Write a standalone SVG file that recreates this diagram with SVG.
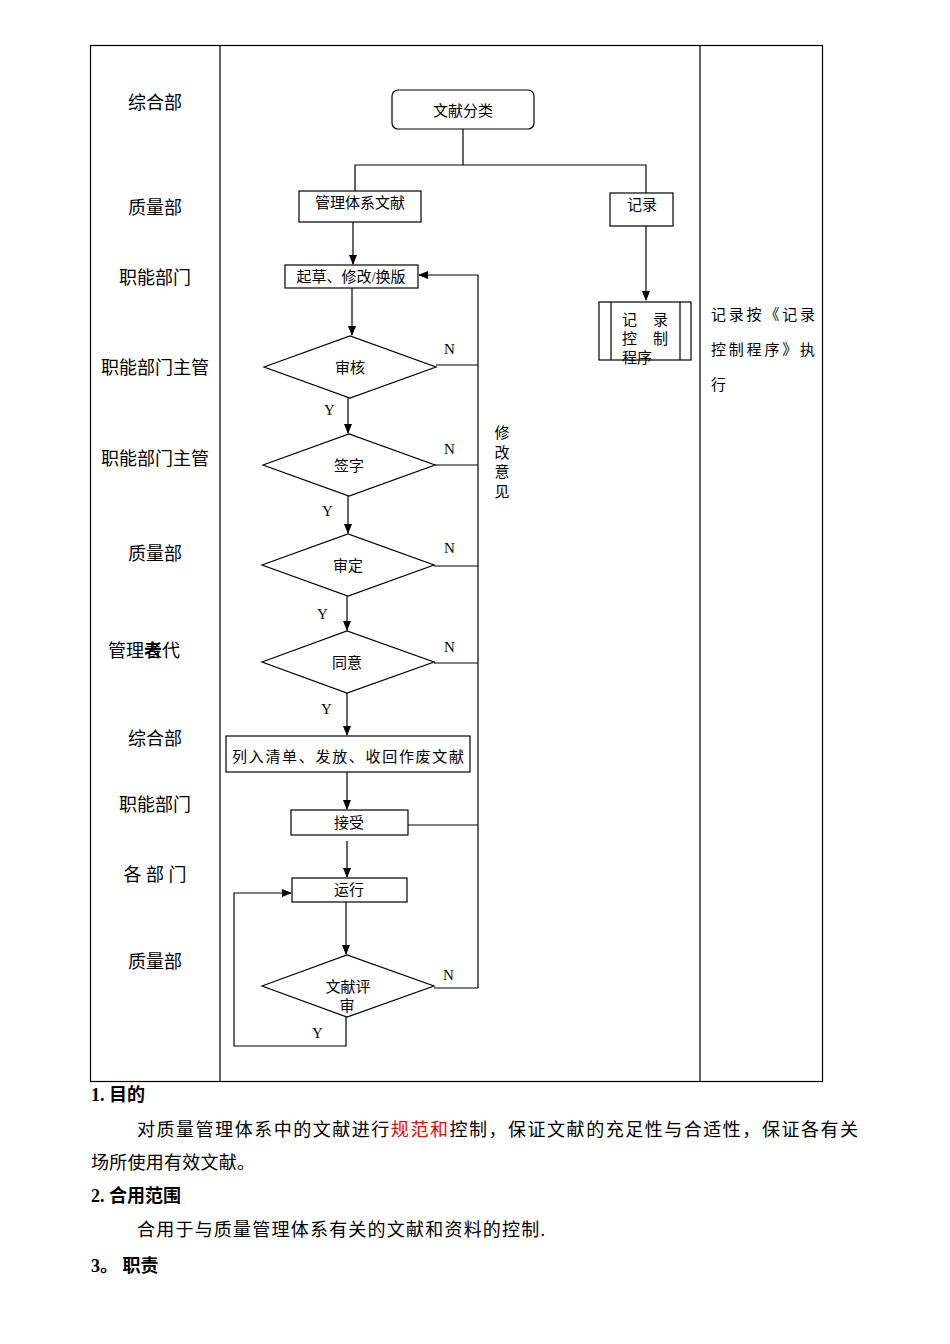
<svg xmlns="http://www.w3.org/2000/svg" width="950" height="1344" viewBox="0 0 950 1344">
<defs><marker id="a" markerWidth="10" markerHeight="10" refX="9" refY="5" orient="auto" markerUnits="userSpaceOnUse"><path d="M0,1 L10,5 L0,9 Z" fill="#000"/></marker></defs>
<style>
text{font-family:"Liberation Serif","Noto Sans CJK SC",serif;fill:#000}
.l{font-size:18px}.n{font-size:15px}.s{font-size:15px}
.b{fill:#fff;stroke:#000;stroke-width:1.2}
.c{fill:none;stroke:#000;stroke-width:1.2}
.p{font-size:18px}
</style>
<rect width="950" height="1344" fill="#fff"/>
<g id="table" class="c"><rect x="90.5" y="45.5" width="732" height="1036"/><line x1="220" y1="45" x2="220" y2="1081"/><line x1="700" y1="45" x2="700" y2="1081"/></g>
<g id="lanes" class="l">
<text x="155" y="109" text-anchor="middle">综合部</text>
<text x="155" y="214" text-anchor="middle">质量部</text>
<text x="155" y="284" text-anchor="middle">职能部门</text>
<text x="155" y="374" text-anchor="middle">职能部门主管</text>
<text x="155" y="465" text-anchor="middle">职能部门主管</text>
<text x="155" y="560" text-anchor="middle">质量部</text>
<text x="108" y="657">管理者代</text><text x="144" y="657">表</text>
<text x="155" y="745" text-anchor="middle">综合部</text>
<text x="155" y="811" text-anchor="middle">职能部门</text>
<text x="155" y="881" text-anchor="middle">各 部 门</text>
<text x="155" y="968" text-anchor="middle">质量部</text>
</g>
<g id="connectors" class="c">
<polyline points="463,129 463,165"/><polyline points="355,192 355,165 646,165 646,193"/>
<line x1="646" y1="226" x2="646" y2="300" marker-end="url(#a)"/>
<line x1="353" y1="222" x2="353" y2="264" marker-end="url(#a)"/>
<polyline points="478,988 478,275 419,275" marker-end="url(#a)"/>
<line x1="352" y1="288" x2="352" y2="335" marker-end="url(#a)"/>
<line x1="436" y1="365" x2="478" y2="365"/>
<line x1="348" y1="398" x2="348" y2="433" marker-end="url(#a)"/>
<line x1="435" y1="465" x2="478" y2="465"/>
<line x1="348" y1="496" x2="348" y2="533" marker-end="url(#a)"/>
<line x1="434" y1="566" x2="478" y2="566"/>
<line x1="347" y1="596" x2="347" y2="630" marker-end="url(#a)"/>
<line x1="434" y1="663" x2="478" y2="663"/>
<line x1="347" y1="693" x2="347" y2="735" marker-end="url(#a)"/>
<line x1="347" y1="772" x2="347" y2="809" marker-end="url(#a)"/>
<line x1="408" y1="825" x2="478" y2="825"/>
<line x1="347" y1="841" x2="347" y2="877" marker-end="url(#a)"/>
<line x1="346" y1="902" x2="346" y2="954" marker-end="url(#a)"/>
<line x1="434" y1="988" x2="478" y2="988"/>
<polyline points="346,1017 346,1046 234,1046 234,893 291,893" marker-end="url(#a)"/>
</g>
<g id="connector-labels" class="n">
<text x="444" y="354">N</text><text x="324" y="415">Y</text>
<text x="444" y="454">N</text><text x="322" y="516">Y</text>
<text x="444" y="553">N</text><text x="317" y="619">Y</text>
<text x="444" y="652">N</text><text x="321" y="714">Y</text>
<text x="443" y="980">N</text><text x="312" y="1038">Y</text>
<text x="502" y="438" text-anchor="middle">修</text><text x="502" y="458" text-anchor="middle">改</text><text x="502" y="477" text-anchor="middle">意</text><text x="502" y="497" text-anchor="middle">见</text>
</g>
<g id="n1"><rect class="b" x="392" y="90" width="142" height="39" rx="6"/><text class="s" x="463" y="116" text-anchor="middle">文献分类</text></g>
<g id="n2"><rect class="b" x="299" y="191" width="122" height="31"/><text class="s" x="360" y="208" text-anchor="middle">管理体系文献</text></g>
<g id="n3"><rect class="b" x="610" y="193" width="63" height="33"/><text class="s" x="642" y="210" text-anchor="middle">记录</text></g>
<g id="n4"><rect class="b" x="599" y="302" width="92" height="58"/><line class="c" x1="611" y1="302" x2="611" y2="360"/><line class="c" x1="680" y1="302" x2="680" y2="360"/><text class="s" x="622" y="325">记</text><text class="s" x="653" y="325">录</text><text class="s" x="622" y="344">控</text><text class="s" x="653" y="344">制</text><text class="s" x="622" y="363">程序</text></g>
<g id="n5"><rect class="b" x="285" y="265" width="133" height="23"/><text class="s" x="351" y="282" text-anchor="middle">起草、修改/换版</text></g>
<g id="n6"><polygon class="b" points="264,367 350,336 436,367 350,398"/><text class="s" x="350" y="373" text-anchor="middle">审核</text></g>
<g id="n7"><polygon class="b" points="263,465 349,434 435,465 349,496"/><text class="s" x="349" y="471" text-anchor="middle">签字</text></g>
<g id="n8"><polygon class="b" points="262,565 348,534 434,565 348,596"/><text class="s" x="348" y="571" text-anchor="middle">审定</text></g>
<g id="n9"><polygon class="b" points="262,662 347,631 434,662 347,693"/><text class="s" x="347" y="668" text-anchor="middle">同意</text></g>
<g id="n10"><rect class="b" x="226" y="736" width="244" height="36"/><text class="s" x="348" y="762" text-anchor="middle" textLength="232">列入清单、发放、收回作废文献</text></g>
<g id="n11"><rect class="b" x="291" y="810" width="117" height="25"/><text class="s" x="349" y="828" text-anchor="middle">接受</text></g>
<g id="n12"><rect class="b" x="292" y="878" width="115" height="24"/><text class="s" x="349" y="895" text-anchor="middle">运行</text></g>
<g id="n13"><polygon class="b" points="262,986 347,955 434,986 347,1017"/><text class="s" x="348" y="992" text-anchor="middle">文献评</text><text class="s" x="347" y="1011" text-anchor="middle">审</text></g>
<g id="note" class="s"><text x="711" y="320" textLength="104">记录按《记录</text><text x="711" y="355" textLength="104">控制程序》执</text><text x="711" y="390">行</text></g>
<g id="body" class="p">
<text x="91" y="1101" font-weight="bold">1. 目的</text>
<text x="137" y="1136" textLength="721">对质量管理体系中的文献进行<tspan fill="#e00">规范和</tspan>控制，保证文献的充足性与合适性，保证各有关</text>
<text x="91" y="1169" textLength="164">场所使用有效文献。</text>
<text x="91" y="1202" font-weight="bold">2. 合用范围</text>
<text x="137" y="1236" textLength="408">合用于与质量管理体系有关的文献和资料的控制.</text>
<text x="91" y="1272" font-weight="bold">3。 职责</text>
</g>
</svg>
